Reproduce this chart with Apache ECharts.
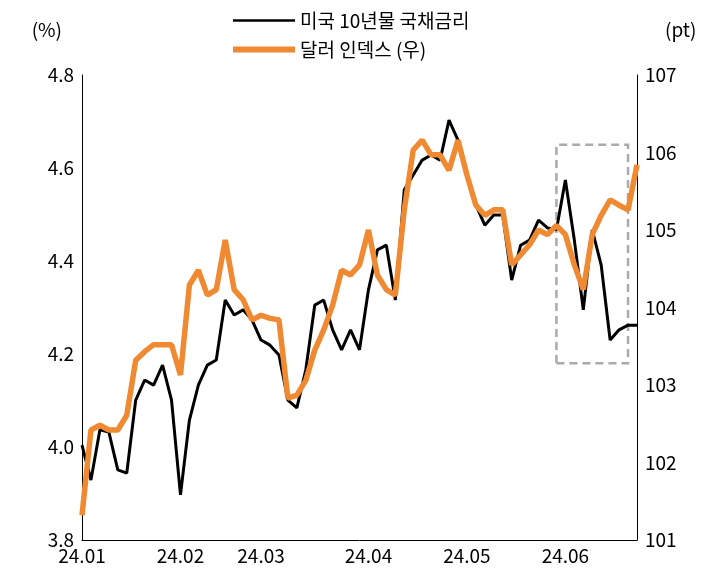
<!DOCTYPE html>
<html>
<head>
<meta charset="utf-8">
<script src="https://cdn.jsdelivr.net/npm/echarts@6/dist/echarts.min.js"></script>
<style>html,body{margin:0;padding:0;background:#fff}#main{width:708px;height:586px}</style>
</head>
<body>
<div id="main"></div>
<script>
// 월 시작 위치에만 라벨
var monthLabels = {0:'24.01', 11:'24.02', 20:'24.03', 32:'24.04', 43:'24.05', 54:'24.06'};
var categories = [];
for (var i = 0; i < 63; i++) categories.push(monthLabels[i] || ('d' + i));

var us10y = [4.004,3.929,4.037,4.032,3.951,3.944,4.101,4.144,4.133,4.176,4.101,3.897,4.058,4.133,4.176,4.187,
  4.316,4.284,4.295,4.273,4.230,4.219,4.198,4.101,4.084,4.166,4.305,4.316,4.252,4.209,4.252,4.209,
  4.338,4.424,4.434,4.316,4.553,4.585,4.617,4.628,4.617,4.703,4.660,4.585,4.520,4.477,4.499,4.499,
  4.359,4.434,4.445,4.488,4.471,4.467,4.574,4.445,4.295,4.467,4.391,4.230,4.252,4.262,4.262];

var dxy = [101.32,102.42,102.48,102.42,102.42,102.61,103.32,103.43,103.52,103.52,103.52,103.13,104.29,104.48,104.16,104.23,
  104.87,104.23,104.10,103.84,103.90,103.86,103.84,102.83,102.87,103.06,103.45,103.71,104.03,104.48,104.42,104.55,
  105.00,104.42,104.23,104.16,105.26,106.03,106.16,105.97,105.97,105.77,106.16,105.71,105.32,105.19,105.26,105.26,
  104.55,104.68,104.81,105.00,104.94,105.06,104.94,104.55,104.23,104.94,105.19,105.39,105.32,105.26,105.84];

var font = '"Noto Sans CJK KR", "Noto Sans", sans-serif';
var myChart = echarts.init(document.getElementById('main'));
var option = {
    textStyle: {fontFamily: font},
    legend: {
        orient: 'vertical', top: 6, left: 228, itemGap: 10,
        itemWidth: 62, itemHeight: 16,
        textStyle: {fontSize: 19, color: '#000', fontFamily: font},
        data: [
            {name: '미국 10년물 국채금리', icon: 'path://M0,7 L60,7 L60,9.5 L0,9.5 Z'},
            {name: '달러 인덱스 (우)', icon: 'path://M0,5 L60,5 L60,11 L0,11 Z'}
        ]
    },
    grid: {left: 82, right: 71, top: 75, bottom: 46},
    xAxis: {
        type: 'category', data: categories, boundaryGap: false,
        axisLine: {lineStyle: {color: '#000'}},
        axisTick: {show: false},
        axisLabel: {
            color: '#000', fontSize: 19, margin: 6, fontFamily: font,
            interval: function (idx) { return monthLabels[idx] !== undefined; },
            formatter: function (v) { return v.charAt(0) === 'd' ? '' : v; }
        }
    },
    yAxis: [
        {type: 'value', min: 3.8, max: 4.8, interval: 0.2, name: '(%)',
         nameLocation: 'end', nameGap: 36, nameTextStyle: {fontSize: 19, color: '#000', align: 'right', padding: [0, 20, 0, 0]},
         axisLine: {show: true, lineStyle: {color: '#000'}}, axisTick: {show: false}, splitLine: {show: false},
         axisLabel: {color: '#000', fontSize: 19, formatter: function (v) { return v.toFixed(1); }}},
        {type: 'value', min: 101, max: 107, interval: 1, name: '(pt)',
         nameLocation: 'end', nameGap: 36, nameTextStyle: {fontSize: 19, color: '#000', align: 'left', padding: [0, 0, 0, 28]},
         axisLine: {show: true, lineStyle: {color: '#000'}}, axisTick: {show: false}, splitLine: {show: false},
         axisLabel: {color: '#000', fontSize: 19}}
    ],
    series: [
        {name: '미국 10년물 국채금리', type: 'line', data: us10y, yAxisIndex: 0, showSymbol: false,
         lineStyle: {color: '#000', width: 3}, itemStyle: {color: '#000'}, z: 2,
         markArea: {silent: true,
            itemStyle: {color: 'rgba(0,0,0,0)', borderColor: '#aaa', borderWidth: 2.5, borderType: [8, 5]},
            data: [[{xAxis: 53, yAxis: 4.18}, {xAxis: 61, yAxis: 4.65}]]}},
        {name: '달러 인덱스 (우)', type: 'line', data: dxy, yAxisIndex: 1, showSymbol: false,
         lineStyle: {color: '#f08a32', width: 5.5}, itemStyle: {color: '#f08a32'}, z: 3}
    ]
};
myChart.setOption(option);
</script>
</body>
</html>
